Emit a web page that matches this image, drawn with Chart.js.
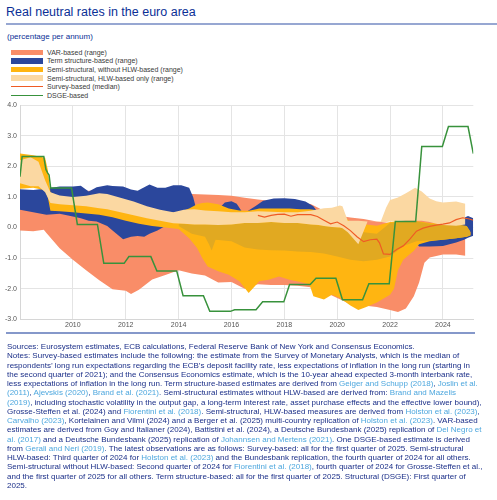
<!DOCTYPE html>
<html>
<head>
<meta charset="utf-8">
<script src="https://cdn.jsdelivr.net/npm/chart.js@4.4.1/dist/chart.umd.min.js"></script>
<style>
  body { margin: 0; width: 497px; height: 500px; background: #fff; position: relative; overflow: hidden;
         font-family: 'Liberation Sans', Arial, sans-serif; }
  #title { position: absolute; left: 6px; top: 6px; font-size: 12.5px; line-height: 1; color: #0a2f96; white-space: nowrap; }
  #rule1 { position: absolute; left: 6px; top: 23px; width: 491px; height: 2px; background: #97a7d2; }
  #sub { position: absolute; left: 7px; top: 33px; font-size: 8px; line-height: 1; color: #0a2f96; white-space: nowrap; }
  #legend { position: absolute; left: 11px; top: 48px; }
  .li { height: 8.6px; display: flex; align-items: center; font-size: 7px; color: #3a3a3a; white-space: nowrap; }
  .sw { width: 32px; margin-right: 4px; }
  #plot { position: absolute; left: 0; top: 98px; }
  #rule2 { position: absolute; left: 6px; top: 332px; width: 469px; height: 1.5px; background: #8598ca; }
  #notes { position: absolute; left: 7px; top: 342px; font-size: 8px; line-height: 9.25px; color: #1b2f88; white-space: nowrap; }
  #notes a { color: #4da7de; text-decoration: none; }
</style>
</head>
<body>
<div id="title">Real neutral rates in the euro area</div>
<div id="rule1"></div>
<div id="sub">(percentage per annum)</div>
<div id="legend"></div>
<canvas id="plot" width="497" height="236"></canvas>
<div id="rule2"></div>
<div id="notes">
Sources: Eurosystem estimates, ECB calculations, Federal Reserve Bank of New York and Consensus Economics.<br>
Notes: Survey-based estimates include the following: the estimate from the Survey of Monetary Analysts, which is the median of<br>
respondents’ long run expectations regarding the ECB’s deposit facility rate, less expectations of inflation in the long run (starting in<br>
the second quarter of 2021); and the Consensus Economics estimate, which is the 10-year ahead expected 3-month interbank rate,<br>
less expectations of inflation in the long run. Term structure-based estimates are derived from <a>Geiger and Schupp (2018)</a>, <a>Joslin et al.</a><br>
<a>(2011)</a>, <a>Ajevskis (2020)</a>, <a>Brand et al. (2021)</a>. Semi-structural estimates without HLW-based are derived from: <a>Brand and Mazelis</a><br>
<a>(2019)</a>, including stochastic volatility in the output gap, a long-term interest rate, asset purchase effects and the effective lower bound),<br>
Grosse-Steffen et al. (2024) and <a>Fiorentini et al. (2018)</a>. Semi-structural, HLW-based measures are derived from <a>Holston et al. (2023)</a>,<br>
<a>Carvalho (2023)</a>, Kortelainen and Vilmi (2024) and a Berger et al. (2025) multi-country replication of <a>Holston et al. (2023)</a>. VAR-based<br>
estimates are derived from Goy and Italianer (2024), Battistini et al. (2024), a Deutsche Bundesbank (2025) replication of <a>Del Negro et</a><br>
<a>al. (2017)</a> and a Deutsche Bundesbank (2025) replication of <a>Johannsen and Mertens (2021)</a>. One DSGE-based estimate is derived<br>
from <a>Gerali and Neri (2019)</a>. The latest observations are as follows: Survey-based: all for the first quarter of 2025. Semi-structural<br>
HLW-based: Third quarter of 2024 for <a>Holston et al. (2023)</a> and the Bundesbank replication, the fourth quarter of 2024 for all others.<br>
Semi-structural without HLW-based: Second quarter of 2024 for <a>Fiorentini et al. (2018)</a>, fourth quarter of 2024 for Grosse-Steffen et al.,<br>
and the first quarter of 2025 for all others. Term structure-based: all for the first quarter of 2025. Structural (DSGE): First quarter of<br>
2025.
</div>
<script>
// ---- data (percentage per annum, x in decimal years) ----
const xTicks = [2008, 2010, 2012, 2014, 2016, 2018, 2020, 2022, 2024];
const yTicks = [-3, -2, -1, 0, 1, 2, 3, 4];

// VAR-based (range)
const varX = [2008.0, 2008.5, 2008.9, 2009.0, 2009.5, 2010.0, 2010.5, 2011.0, 2011.5, 2012.0, 2012.2, 2012.5, 2013.0, 2013.5,
  2014.0, 2014.5, 2015.0, 2015.5, 2016.0, 2016.5, 2017.0, 2017.5, 2018.0, 2018.5, 2019.0, 2019.5, 2020.0, 2020.25, 2020.5,
  2021.0, 2021.5, 2022.0, 2022.3, 2022.6, 2022.9, 2023.1, 2023.3, 2023.5, 2024.0, 2024.5, 2024.85];
const varHigh = [1.2, 1.2, 1.2, 1.2, 1.2, 1.2, 1.2, 1.2, 1.15, 1.15, 1.15, 1.15, 1.15, 1.15,
  1.12, 1.1, 1.08, 1.06, 1.04, 0.97, 0.92, 0.87, 0.84, 0.8, 0.77, 0.55, 0.45, 0.36, 0.33,
  0.28, 0.2, 0.15, 0.2, 0.25, 0.3, 0.3, 0.3, 0.3, 0.3, 0.3, 0.3];
const varLow = [-0.1, -0.12, -0.07, -0.18, -0.68, -1.05, -1.4, -1.72, -2.02, -2.07, -2.17, -2.03, -1.7, -1.55,
  -1.4, -1.5, -1.57, -1.8, -1.78, -2.0, -1.85, -1.88, -1.88, -1.9, -1.95, -2.1, -2.3, -2.4, -2.5,
  -2.55, -2.6, -2.7, -2.76, -2.65, -2.25, -1.8, -1.15, -0.98, -0.88, -0.88, -0.92];

// Term structure-based (range)
const termX = [2008.0, 2008.5, 2009.0, 2009.5, 2010.0, 2010.3, 2010.6, 2010.9, 2011.3, 2011.5, 2011.9, 2012.2, 2012.45, 2012.7,
  2012.9, 2013.2, 2013.5, 2013.8, 2014.1, 2014.4, 2014.55, 2014.7, 2015.0, 2015.5, 2015.75, 2016.0, 2016.2, 2016.45,
  2016.9, 2017.2, 2017.6, 2018.0, 2018.4, 2018.8, 2019.1, 2019.35, 2020.0, 2021.0, 2022.0, 2022.8, 2023.1, 2023.5,
  2024.0, 2024.5, 2024.8, 2024.95, 2025.15];
const termHigh = [1.25, 1.23, 1.28, 1.34, 1.34, 1.37, 1.18, 1.32, 1.38, 1.36, 1.34, 1.24, 1.2, 1.32,
  1.41, 1.3, 1.3, 1.38, 1.38, 1.3, 1.0, 0.5, 0.5, 0.6, 0.82, 0.86, 0.78, 0.45,
  0.7, 0.88, 0.95, 0.96, 0.93, 0.85, 0.7, 0.4, 0.2, -0.1, -0.1, -0.25, -0.2, -0.2,
  -0.2, -0.1, 0.32, 0.38, 0.3];
const termLow = [0.58, 0.5, 0.42, 0.45, 0.36, 0.3, 0.22, 0.2, 0.05, -0.1, -0.38, -0.3, -0.28, -0.3,
  -0.2, -0.1, 0.05, 0.12, 0.15, 0.25, 0.3, 0.3, 0.3, 0.3, 0.3, 0.3, 0.3, 0.3,
  0.3, 0.3, 0.3, 0.3, 0.3, 0.3, 0.3, 0.2, 0.0, -0.3, -0.3, -0.35, -0.62, -0.62,
  -0.6, -0.49, -0.4, -0.33, -0.27];

// Semi-structural, without HLW-based (range)
const semiX = [2008.0, 2008.5, 2008.95, 2009.05, 2009.15, 2009.5, 2010.0, 2010.5, 2011.0, 2011.5, 2012.0, 2012.5, 2013.0,
  2013.5, 2014.0, 2014.4, 2014.7, 2014.9, 2015.1, 2015.5, 2015.9, 2016.3, 2016.65, 2016.85, 2017.05, 2017.4, 2017.8,
  2018.2, 2018.6, 2018.95, 2019.1, 2019.5, 2019.8, 2020.1, 2020.5, 2020.8, 2021.1, 2021.5, 2022.0, 2022.15, 2022.3,
  2022.5, 2022.9, 2023.1, 2023.5, 2024.0, 2024.5, 2024.9, 2025.05];
const semiHigh = [2.42, 2.36, 2.28, 1.9, 1.15, 1.0, 0.95, 0.98, 1.05, 0.95, 0.82, 0.7, 0.58,
  0.48, 0.5, 0.62, 0.76, 0.8, 0.82, 0.76, 0.62, 0.56, 0.55, 0.58, 0.62, 0.62, 0.62,
  0.62, 0.6, 0.6, 0.58, 0.55, 0.5, 0.45, 0.2, 0.15, 0.1, 0.06, 0.18, 0.2, 0.2,
  0.2, 0.2, 0.2, 0.15, 0.12, 0.1, 0.05, -0.15];
const semiLow = [1.27, 1.3, 1.22, 1.0, 0.55, 0.53, 0.5, 0.46, 0.42, 0.34, 0.22, 0.12, 0.05,
  0.0, -0.05, -0.35, -0.67, -1.0, -1.27, -1.43, -1.54, -1.76, -2.14, -1.95, -1.76, -1.71, -1.6,
  -1.71, -1.78, -1.85, -2.25, -2.35, -2.2, -2.3, -2.55, -2.7, -2.6, -2.45, -2.2, -2.0, -1.4,
  -1.05, -0.76, -0.55, -0.45, -0.4, -0.35, -0.3, -0.25];

// where the semi-structural ranges overlap (darker shade)
const overlapX = [2014.0, 2014.5, 2015.0, 2015.15, 2015.25, 2015.4, 2016.0, 2016.5, 2017.0, 2017.5, 2018.0, 2018.5, 2019.0,
  2019.5, 2020.0, 2020.5, 2021.0, 2021.5, 2022.0, 2022.5, 2023.0, 2023.5, 2024.0, 2024.5, 2024.9, 2025.05];
const overlapHigh = [0.12, 0.1, 0.1, 0.1, 0.1, 0.1, 0.1, 0.15, 0.15, 0.18, 0.15, 0.15, 0.1,
  0.05, 0.0, -0.05, -0.15, -0.2, 0.15, 0.2, 0.2, 0.12, 0.1, 0.08, 0.05, -0.15];
const overlapLow = [0.05, -0.2, -0.3, -0.55, -0.75, -0.4, -0.45, -0.65, -0.72, -0.74, -0.75, -0.78, -0.8,
  -0.85, -0.95, -1.05, -1.1, -1.05, -0.95, -0.6, -0.45, -0.42, -0.4, -0.35, -0.3, -0.25];

// Semi-structural, HLW-based only (range)
const hlwX = [2008.0, 2008.4, 2008.7, 2008.95, 2009.15, 2009.5, 2010.0, 2010.5, 2011.0, 2011.3, 2011.8, 2012.3, 2012.8,
  2013.3, 2013.8, 2014.2, 2014.6, 2015.0, 2015.5, 2016.0, 2016.5, 2017.0, 2017.5, 2018.0, 2018.5, 2019.0, 2019.3,
  2019.5, 2019.8, 2020.1, 2020.2, 2020.4, 2020.8, 2021.15, 2021.65, 2021.85, 2022.0, 2022.3, 2022.6, 2022.95, 2023.2,
  2023.5, 2023.75, 2024.0, 2024.5, 2024.85];
const hlwHigh = [2.2, 2.3, 2.15, 1.55, 1.15, 1.05, 1.0, 1.04, 1.12, 1.1, 0.97, 0.85, 0.7,
  0.58, 0.5, 0.58, 0.6, 0.56, 0.53, 0.5, 0.5, 0.53, 0.52, 0.5, 0.5, 0.55, 0.6,
  0.63, 0.65, 0.72, 0.7, 0.22, 0.22, 0.2, 0.2, 0.65, 0.9, 0.98, 1.12, 1.3, 1.18,
  0.95, 0.86, 0.82, 0.85, 0.78];
const hlwLow = [1.45, 1.35, 1.35, 1.15, 0.8, 0.76, 0.73, 0.7, 0.63, 0.6, 0.5, 0.4, 0.3,
  0.22, 0.14, 0.12, 0.1, 0.1, 0.08, 0.1, 0.15, 0.15, 0.18, 0.15, 0.15, 0.1, 0.08,
  0.05, 0.02, 0.0, -0.02, -0.15, -0.55, 0.2, 0.18, 0.18, 0.2, 0.22, 0.22, 0.22, 0.22,
  0.18, 0.12, 0.08, 0.06, 0.1];

// Survey-based (median)
const surveyX = [2017.0, 2017.25, 2017.5, 2017.75, 2018.0, 2018.25, 2018.5, 2018.75, 2019.0, 2019.25, 2019.5, 2019.75,
  2020.0, 2020.25, 2020.5, 2020.75, 2021.0, 2021.25, 2021.5, 2021.6, 2021.75, 2022.0, 2022.25, 2022.5, 2022.75,
  2023.0, 2023.25, 2023.5, 2023.75, 2024.0, 2024.25, 2024.5, 2024.75, 2025.0, 2025.15];
const surveyY = [0.4, 0.34, 0.4, 0.43, 0.44, 0.37, 0.42, 0.42, 0.42, 0.36, 0.24, 0.12,
  0.18, 0.06, -0.1, -0.3, -0.46, -0.4, -0.38, -0.5, -0.86, -0.88, -0.72, -0.6, -0.38,
  -0.12, -0.02, 0.04, 0.08, 0.11, 0.15, 0.26, 0.32, 0.28, 0.24];

// DSGE-based
const dsgeX = [2008.0, 2008.08, 2008.9, 2008.98, 2009.05, 2009.1, 2009.16, 2009.95, 2010.17, 2010.93, 2011.17, 2011.94,
  2012.12, 2012.95, 2013.18, 2013.93, 2014.17, 2014.94, 2015.18, 2015.96, 2016.12, 2016.93, 2017.18, 2017.98,
  2018.2, 2018.98, 2019.2, 2019.95, 2020.2, 2020.96, 2021.2, 2021.97, 2022.2, 2022.97, 2023.2, 2023.98,
  2024.21, 2024.95, 2025.15];
const dsgeY = [1.66, 2.32, 2.32, 1.9, 1.78, 1.72, 1.29, 1.29, 0.1, 0.1, -1.17, -1.17,
  -0.95, -0.95, -1.42, -1.42, -2.23, -2.23, -2.74, -2.74, -2.69, -2.69, -2.43, -2.43,
  -1.86, -1.86, -1.66, -1.66, -2.36, -2.36, -1.84, -1.84, 0.2, 0.2, 2.65, 2.65,
  3.3, 3.3, 2.42];

const C_VAR = '#f98d68';
const C_TERM = '#2b479c';
const C_SEMI = '#ffb511';
const C_OVER = '#e1a921';
const C_HLW = '#fbd8a2';
const C_SURVEY = '#ef5b25';
const C_DSGE = '#38923c';

const legendItems = [
  ['VAR-based (range)', C_VAR, 'band'],
  ['Term structure-based (range)', C_TERM, 'band'],
  ['Semi-structural, without HLW-based (range)', C_SEMI, 'band'],
  ['Semi-structural, HLW-based only (range)', C_HLW, 'band'],
  ['Survey-based (median)', C_SURVEY, 'line'],
  ['DSGE-based', C_DSGE, 'line']
];

// ---- legend ----
const legendBox = document.getElementById('legend');
legendItems.forEach(([name, color, kind]) => {
  const row = document.createElement('div');
  row.className = 'li';
  const sw = document.createElement('span');
  sw.className = 'sw';
  sw.style.height = kind === 'band' ? '5.5px' : '1.5px';
  sw.style.background = color;
  row.appendChild(sw);
  row.appendChild(document.createTextNode(name));
  legendBox.appendChild(row);
});

// ---- chart ----
const pts = (xs, ys) => xs.map((x, i) => ({ x: x, y: ys[i] }));
const FONT = "'Liberation Sans', Arial, sans-serif";

function edge(xs, ys, fill, color) {
  return {
    data: pts(xs, ys),
    borderWidth: 0,
    borderColor: 'rgba(0,0,0,0)',
    backgroundColor: color || 'rgba(0,0,0,0)',
    pointRadius: 0,
    tension: 0,
    fill: fill
  };
}

// first dataset is painted last (on top)
const datasets = [
  { data: pts(dsgeX, dsgeY), borderColor: C_DSGE, borderWidth: 1.5, pointRadius: 0, fill: false, tension: 0 },
  { data: pts(surveyX, surveyY), borderColor: C_SURVEY, borderWidth: 1.2, pointRadius: 0, fill: false, tension: 0 },
  edge(hlwX, hlwHigh, 3, C_HLW),
  edge(hlwX, hlwLow, false),
  edge(overlapX, overlapHigh, 5, C_OVER),
  edge(overlapX, overlapLow, false),
  edge(semiX, semiHigh, 7, C_SEMI),
  edge(semiX, semiLow, false),
  edge(termX, termHigh, 9, C_TERM),
  edge(termX, termLow, false),
  edge(varX, varHigh, 11, C_VAR),
  edge(varX, varLow, false)
];

new Chart(document.getElementById('plot'), {
  type: 'line',
  data: { datasets: datasets },
  options: {
    responsive: false,
    animation: false,
    devicePixelRatio: 1,
    layout: { padding: { top: 5.3, right: 23.7, left: 0, bottom: 0 } },
    plugins: { legend: { display: false }, tooltip: { enabled: false } },
    scales: {
      x: {
        type: 'linear', min: 2008, max: 2025.15,
        afterBuildTicks: s => { s.ticks = xTicks.map(v => ({ value: v })); },
        afterFit: s => { s.height = 14.7; },
        grid: { color: '#e4e4e4', drawTicks: false },
        border: { color: '#d6d6d6' },
        ticks: { padding: 2, autoSkip: false, maxRotation: 0, color: '#555', font: { size: 7, family: FONT },
                 callback: v => v === 2008 ? '' : String(v) }
      },
      y: {
        min: -3, max: 4,
        afterBuildTicks: s => { s.ticks = yTicks.map(v => ({ value: v })); },
        afterFit: s => { s.width = 20; },
        grid: { color: '#e4e4e4', drawTicks: false },
        border: { color: '#d6d6d6' },
        ticks: { padding: 3, color: '#555', font: { size: 7, family: FONT }, callback: v => v.toFixed(1) }
      }
    }
  }
});
</script>
</body>
</html>
